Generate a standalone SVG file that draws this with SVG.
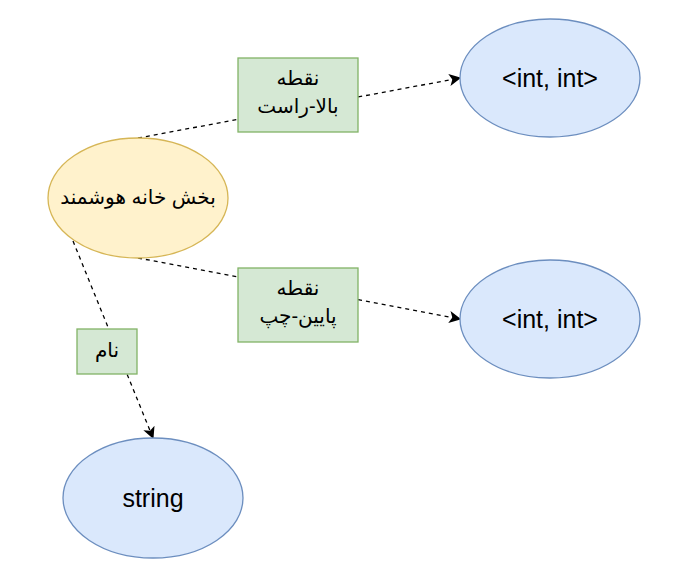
<svg xmlns="http://www.w3.org/2000/svg" width="679" height="588" viewBox="0 0 679 588">
<style>
.blue{fill:#dae8fc;stroke:#6c8ebf;stroke-width:1.3}
.yellow{fill:#fff2cc;stroke:#d6b656;stroke-width:1.3}
.green{fill:#d5e8d4;stroke:#82b366;stroke-width:1.3}
.edge{fill:none;stroke:#000;stroke-width:1.3;stroke-dasharray:4 4}
.lat{font-family:"Liberation Sans",Arial,sans-serif;font-size:25px;fill:#000;text-anchor:middle}
.fa{font-family:"Liberation Sans","DejaVu Sans",sans-serif;font-size:20px;fill:#000;text-anchor:middle;direction:rtl}
</style>
<defs>
<marker id="arr" viewBox="0 0 10 10" refX="9" refY="5" markerWidth="12" markerHeight="12" markerUnits="userSpaceOnUse" orient="auto">
<path d="M0,0 L10,5 L0,10 L2.5,5 Z" fill="#000"/>
</marker>
</defs>
<rect width="679" height="588" fill="#fff"/>
<g id="connectors">
<path class="edge" d="M138,138 L460,78" marker-end="url(#arr)"/>
<path class="edge" d="M138,258 L460,319" marker-end="url(#arr)"/>
<path class="edge" d="M73,241 L153,438" marker-end="url(#arr)"/>
</g>
<g id="smart-home">
<ellipse class="yellow" cx="138" cy="198" rx="90" ry="60"/>
<text class="fa" x="138" y="204" font-size="19">بخش خانه هوشمند</text>
</g>
<g id="top-right">
<ellipse class="blue" cx="550" cy="78" rx="90" ry="59"/>
<text class="lat" x="550" y="87">&lt;int, int&gt;</text>
</g>
<g id="bottom-left">
<ellipse class="blue" cx="550" cy="319" rx="90" ry="59"/>
<text class="lat" x="550" y="328">&lt;int, int&gt;</text>
</g>
<g id="string">
<ellipse class="blue" cx="153" cy="498" rx="90" ry="60"/>
<text class="lat" x="153" y="507">string</text>
</g>
<g id="label-top-right">
<rect class="green" x="238" y="58" width="120" height="74"/>
<text class="fa" x="298" y="85">نقطه</text>
<text class="fa" x="298" y="113">بالا-راست</text>
</g>
<g id="label-bottom-left">
<rect class="green" x="238" y="268" width="120" height="74"/>
<text class="fa" x="298" y="295">نقطه</text>
<text class="fa" x="298" y="323">پایین-چپ</text>
</g>
<g id="label-name">
<rect class="green" x="77" y="329" width="60" height="45"/>
<text class="fa" x="107" y="357">نام</text>
</g>
</svg>
